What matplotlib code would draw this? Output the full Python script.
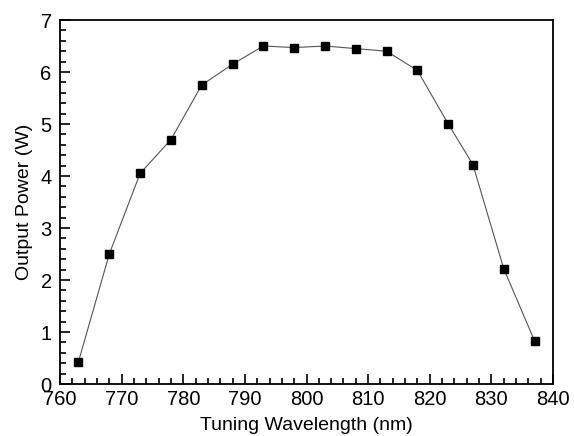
import matplotlib.pyplot as plt
from matplotlib.ticker import MultipleLocator

wavelength = [763, 768, 773, 778, 783, 788, 793, 798, 803, 808, 813, 818, 823, 827, 832, 837]
power = [0.43, 2.5, 4.05, 4.7, 5.75, 6.15, 6.5, 6.47, 6.5, 6.45, 6.4, 6.03, 5.0, 4.22, 2.22, 0.83]

plt.rcParams['font.family'] = ['Liberation Sans', 'DejaVu Sans']

fig = plt.figure(figsize=(5.74, 4.36), dpi=100)
ax = fig.add_axes([60 / 574, 1 - 384 / 436, 493 / 574, 364 / 436])
ax.plot(wavelength, power, "-", color="#555555", lw=0.8)
ax.plot(wavelength, power, "s", color="black", ms=6)

ax.set_xlim(760, 840)
ax.set_ylim(0, 7)
ax.xaxis.set_major_locator(MultipleLocator(10))
ax.xaxis.set_minor_locator(MultipleLocator(2))
ax.yaxis.set_major_locator(MultipleLocator(1))
ax.yaxis.set_minor_locator(MultipleLocator(0.2))
ax.tick_params(which="both", direction="in", top=False, right=False, labelsize=14.5, width=1.2)
ax.tick_params(axis="x", pad=4)
ax.tick_params(axis="y", pad=6)
ax.tick_params(which="major", length=7)
ax.tick_params(which="minor", length=4)
for s in ax.spines.values():
    s.set_linewidth(1.3)

ax.set_xlabel("Tuning Wavelength (nm)", fontsize=14, labelpad=6)
ax.set_ylabel("Output Power (W)", fontsize=14, labelpad=5)

fig.savefig("out.png", dpi=100)
